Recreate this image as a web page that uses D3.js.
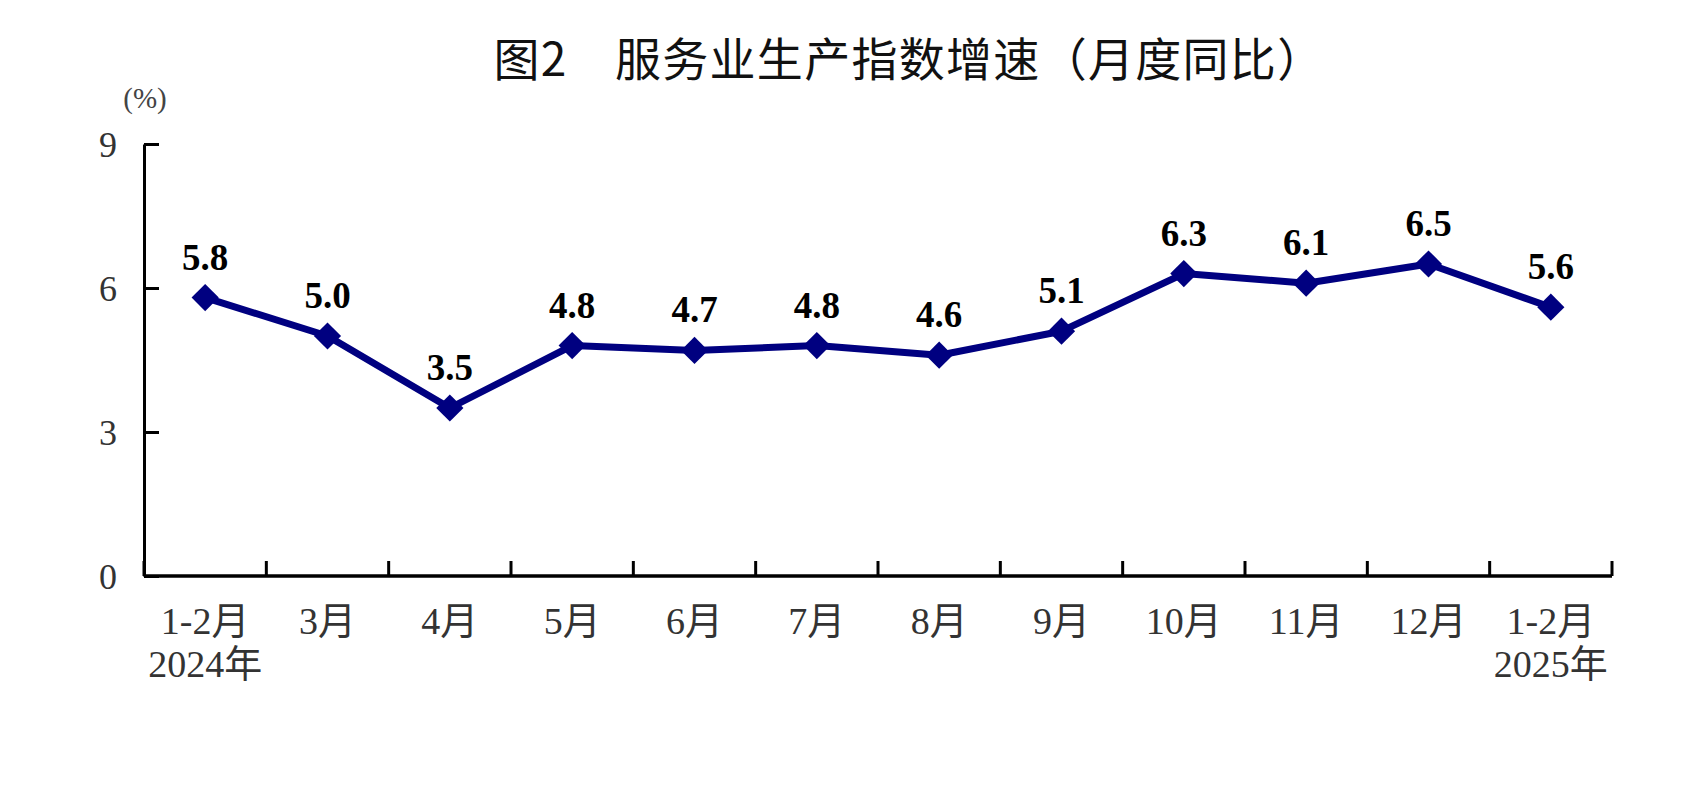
<!DOCTYPE html>
<html>
<head>
<meta charset="utf-8">
<script src="https://cdn.jsdelivr.net/npm/d3@7"></script>
<style>
  body { margin: 0; background: #fff; }
  .ejes text { font-family: "Liberation Serif", "Noto Sans CJK SC", serif; fill: #333; }
</style>
</head>
<body>
<div id="graf"></div>
<script>
// datos
var meses = ['1-2月', '3月', '4月', '5月', '6月', '7月', '8月', '9月', '10月', '11月', '12月', '1-2月']
var anios = ['2024年', '', '', '', '', '', '', '', '', '', '', '2025年']
var valores = [5.8, 5.0, 3.5, 4.8, 4.7, 4.8, 4.6, 5.1, 6.3, 6.1, 6.5, 5.6]
var yTicks = [0, 3, 6, 9]
var titulo = '图2\u3000服务业生产指数增速（月度同比）'

var ancho_total = 1696
var alto_total = 791
var margins = { top: 144, left: 144, right: 84, bottom: 215 }
var ancho = ancho_total - margins.left - margins.right
var alto = alto_total - margins.top - margins.bottom

var svg = d3.select('#graf').append('svg')
  .attr('width', ancho_total)
  .attr('height', alto_total)
  .style('display', 'block')

svg.append('rect').attr('width', ancho_total).attr('height', alto_total).attr('fill', '#fff')

var g = svg.append('g')
  .attr('transform', `translate(${margins.left}, ${margins.top})`)

// titulo
svg.append('text')
  .attr('x', 909)
  .attr('y', 76)
  .attr('text-anchor', 'middle')
  .style('font-family', '"Noto Sans CJK SC", sans-serif')
  .style('font-size', '46px')
  .style('letter-spacing', '1.3px')
  .attr('fill', '#111')
  .text(titulo)

svg.append('text')
  .attr('x', 145)
  .attr('y', 108)
  .attr('text-anchor', 'middle')
  .style('font-family', '"Liberation Serif", serif')
  .style('font-size', '29px')
  .attr('fill', '#444')
  .text('(%)')

// escaladores
var x = d3.scaleBand().domain(d3.range(meses.length)).range([0, ancho])
var y = d3.scaleLinear().domain([0, 9]).range([alto, 0])

// ejes
var yAxis = g.append('g')
  .attr('class', 'ejes')
  .call(d3.axisRight(y).tickValues(yTicks).tickSize(15).tickSizeOuter(0).tickFormat(d3.format('d')))
yAxis.select('.domain').attr('stroke', '#000').attr('stroke-width', 3)
yAxis.selectAll('.tick line').attr('stroke', '#000').attr('stroke-width', 3)
yAxis.selectAll('.tick text')
  .attr('x', -36)
  .attr('text-anchor', 'middle')
  .attr('dy', '0.35em')
  .style('font-size', '36px')

var xAxis = g.append('g')
  .attr('class', 'ejes')
  .attr('transform', `translate(0, ${alto})`)
xAxis.append('line')
  .attr('x1', 0).attr('x2', ancho)
  .attr('stroke', '#000').attr('stroke-width', 3.5)
xAxis.selectAll('.tickx')
  .data(d3.range(meses.length + 1))
  .join('line')
  .attr('class', 'tickx')
  .attr('x1', d => d * x.step()).attr('x2', d => d * x.step())
  .attr('y1', 0).attr('y2', -15)
  .attr('stroke', '#000').attr('stroke-width', 3)
xAxis.selectAll('.mes')
  .data(meses)
  .join('text')
  .attr('class', 'mes')
  .attr('x', (d, i) => x(i) + x.bandwidth() / 2)
  .attr('y', 58)
  .attr('text-anchor', 'middle')
  .style('font-size', '38px')
  .text(d => d)
xAxis.selectAll('.anio')
  .data(anios)
  .join('text')
  .attr('class', 'anio')
  .attr('x', (d, i) => x(i) + x.bandwidth() / 2)
  .attr('y', 101)
  .attr('text-anchor', 'middle')
  .style('font-size', '38px')
  .text(d => d)

// linea
var lineaGen = d3.line()
  .x((d, i) => x(i) + x.bandwidth() / 2)
  .y(d => y(d))

g.append('path')
  .attr('d', lineaGen(valores))
  .attr('fill', 'none')
  .attr('stroke', '#000080')
  .attr('stroke-width', 7)
  .attr('stroke-linejoin', 'round')

g.selectAll('.punto')
  .data(valores)
  .join('path')
  .attr('class', 'punto')
  .attr('d', d3.symbol().type(d3.symbolSquare).size(370))
  .attr('transform', (d, i) => `translate(${x(i) + x.bandwidth() / 2}, ${y(d)}) rotate(45)`)
  .attr('fill', '#000080')

g.selectAll('.etiqueta')
  .data(valores)
  .join('text')
  .attr('class', 'etiqueta')
  .attr('x', (d, i) => x(i) + x.bandwidth() / 2)
  .attr('y', d => y(d) - 28)
  .attr('text-anchor', 'middle')
  .style('font-family', '"Liberation Serif", serif')
  .style('font-weight', 'bold')
  .style('font-size', '37px')
  .attr('fill', '#000')
  .text(d => d.toFixed(1))
</script>
</body>
</html>
